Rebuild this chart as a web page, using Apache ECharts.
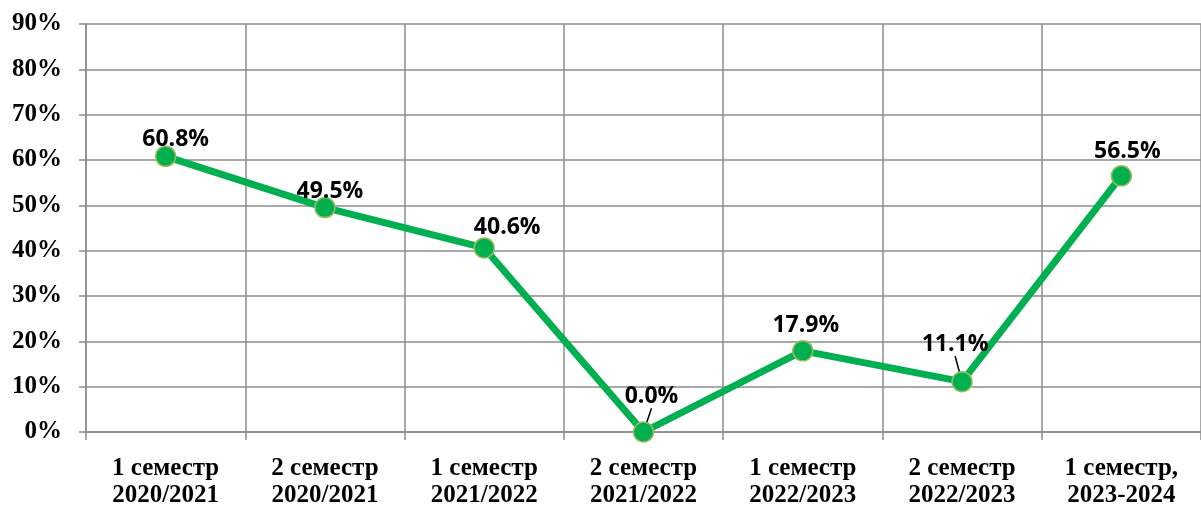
<!DOCTYPE html>
<html>
<head>
<meta charset="utf-8">
<script src="https://cdn.jsdelivr.net/npm/echarts@6/dist/echarts.min.js"></script>
<style>
html,body{margin:0;padding:0;background:#fff;}
#chart{width:1201px;height:509px;}
</style>
</head>
<body>
<div id="chart"></div>
<script>
const categories = [
  "1 семестр\n2020/2021",
  "2 семестр\n2020/2021",
  "1 семестр\n2021/2022",
  "2 семестр\n2021/2022",
  "1 семестр\n2022/2023",
  "2 семестр\n2022/2023",
  "1 семестр,\n2023-2024"
];
const values = [60.8, 49.5, 40.6, 0.0, 17.9, 11.1, 56.5];
const yTicks = { min: 0, max: 90, interval: 10 };

// label nudges (styling only)
const labelShift = [[10,0],[5,1],[23,-3],[8,-18],[3,-8],[-7,-20],[6,-7]];
const leaderIdx = [3,5];

const gridColor = '#8c8c8c';
const chart = echarts.init(document.getElementById('chart'), null, {renderer:'canvas'});
chart.setOption({
  animation: false,
  grid: { left: 86, top: 24, width: 1117, height: 409, containLabel: false },
  xAxis: {
    type: 'category',
    data: categories,
    boundaryGap: true,
    axisLine: { show: true, lineStyle: { color: gridColor, width: 1.5 } },
    axisTick: { show: true, length: 8, alignWithLabel: false, lineStyle: { color: gridColor, width: 1.5 } },
    splitLine: { show: true, lineStyle: { color: gridColor, width: 1.5 } },
    axisLabel: {
      color: '#000', fontFamily: 'Liberation Serif', fontWeight: 'bold', fontSize: 25,
      lineHeight: 27, margin: 23, interval: 0
    }
  },
  yAxis: {
    type: 'value',
    min: yTicks.min, max: yTicks.max, interval: yTicks.interval,
    axisLine: { show: true, lineStyle: { color: gridColor, width: 1.5 } },
    axisTick: { show: true, length: 7, lineStyle: { color: gridColor, width: 1.5 } },
    splitLine: { show: true, lineStyle: { color: gridColor, width: 1.5 } },
    axisLabel: {
      color: '#000', fontFamily: 'Liberation Serif', fontWeight: 'bold', fontSize: 25,
      margin: 24, formatter: '{value}%'
    }
  },
  series: [{
    type: 'line',
    data: values.map((v, i) => ({
      value: v,
      labelLine: { show: leaderIdx.includes(i) }
    })),
    symbol: 'circle',
    symbolSize: 20,
    lineStyle: { color: '#00B050', width: 7 },
    itemStyle: { color: '#00B050', borderColor: '#9BBB59', borderWidth: 1.5 },
    label: {
      show: true, position: 'top', distance: -5,
      color: '#000', fontFamily: 'Open Sans', fontWeight: 'bold', fontSize: 23,
      formatter: p => p.value.toFixed(1) + '%'
    },
    labelLine: { show: false, lineStyle: { color: '#000', width: 1.5 } },
    labelLayout: p => ({ dx: labelShift[p.dataIndex][0], dy: labelShift[p.dataIndex][1] }),
    z: 5
  }]
});
</script>
</body>
</html>
